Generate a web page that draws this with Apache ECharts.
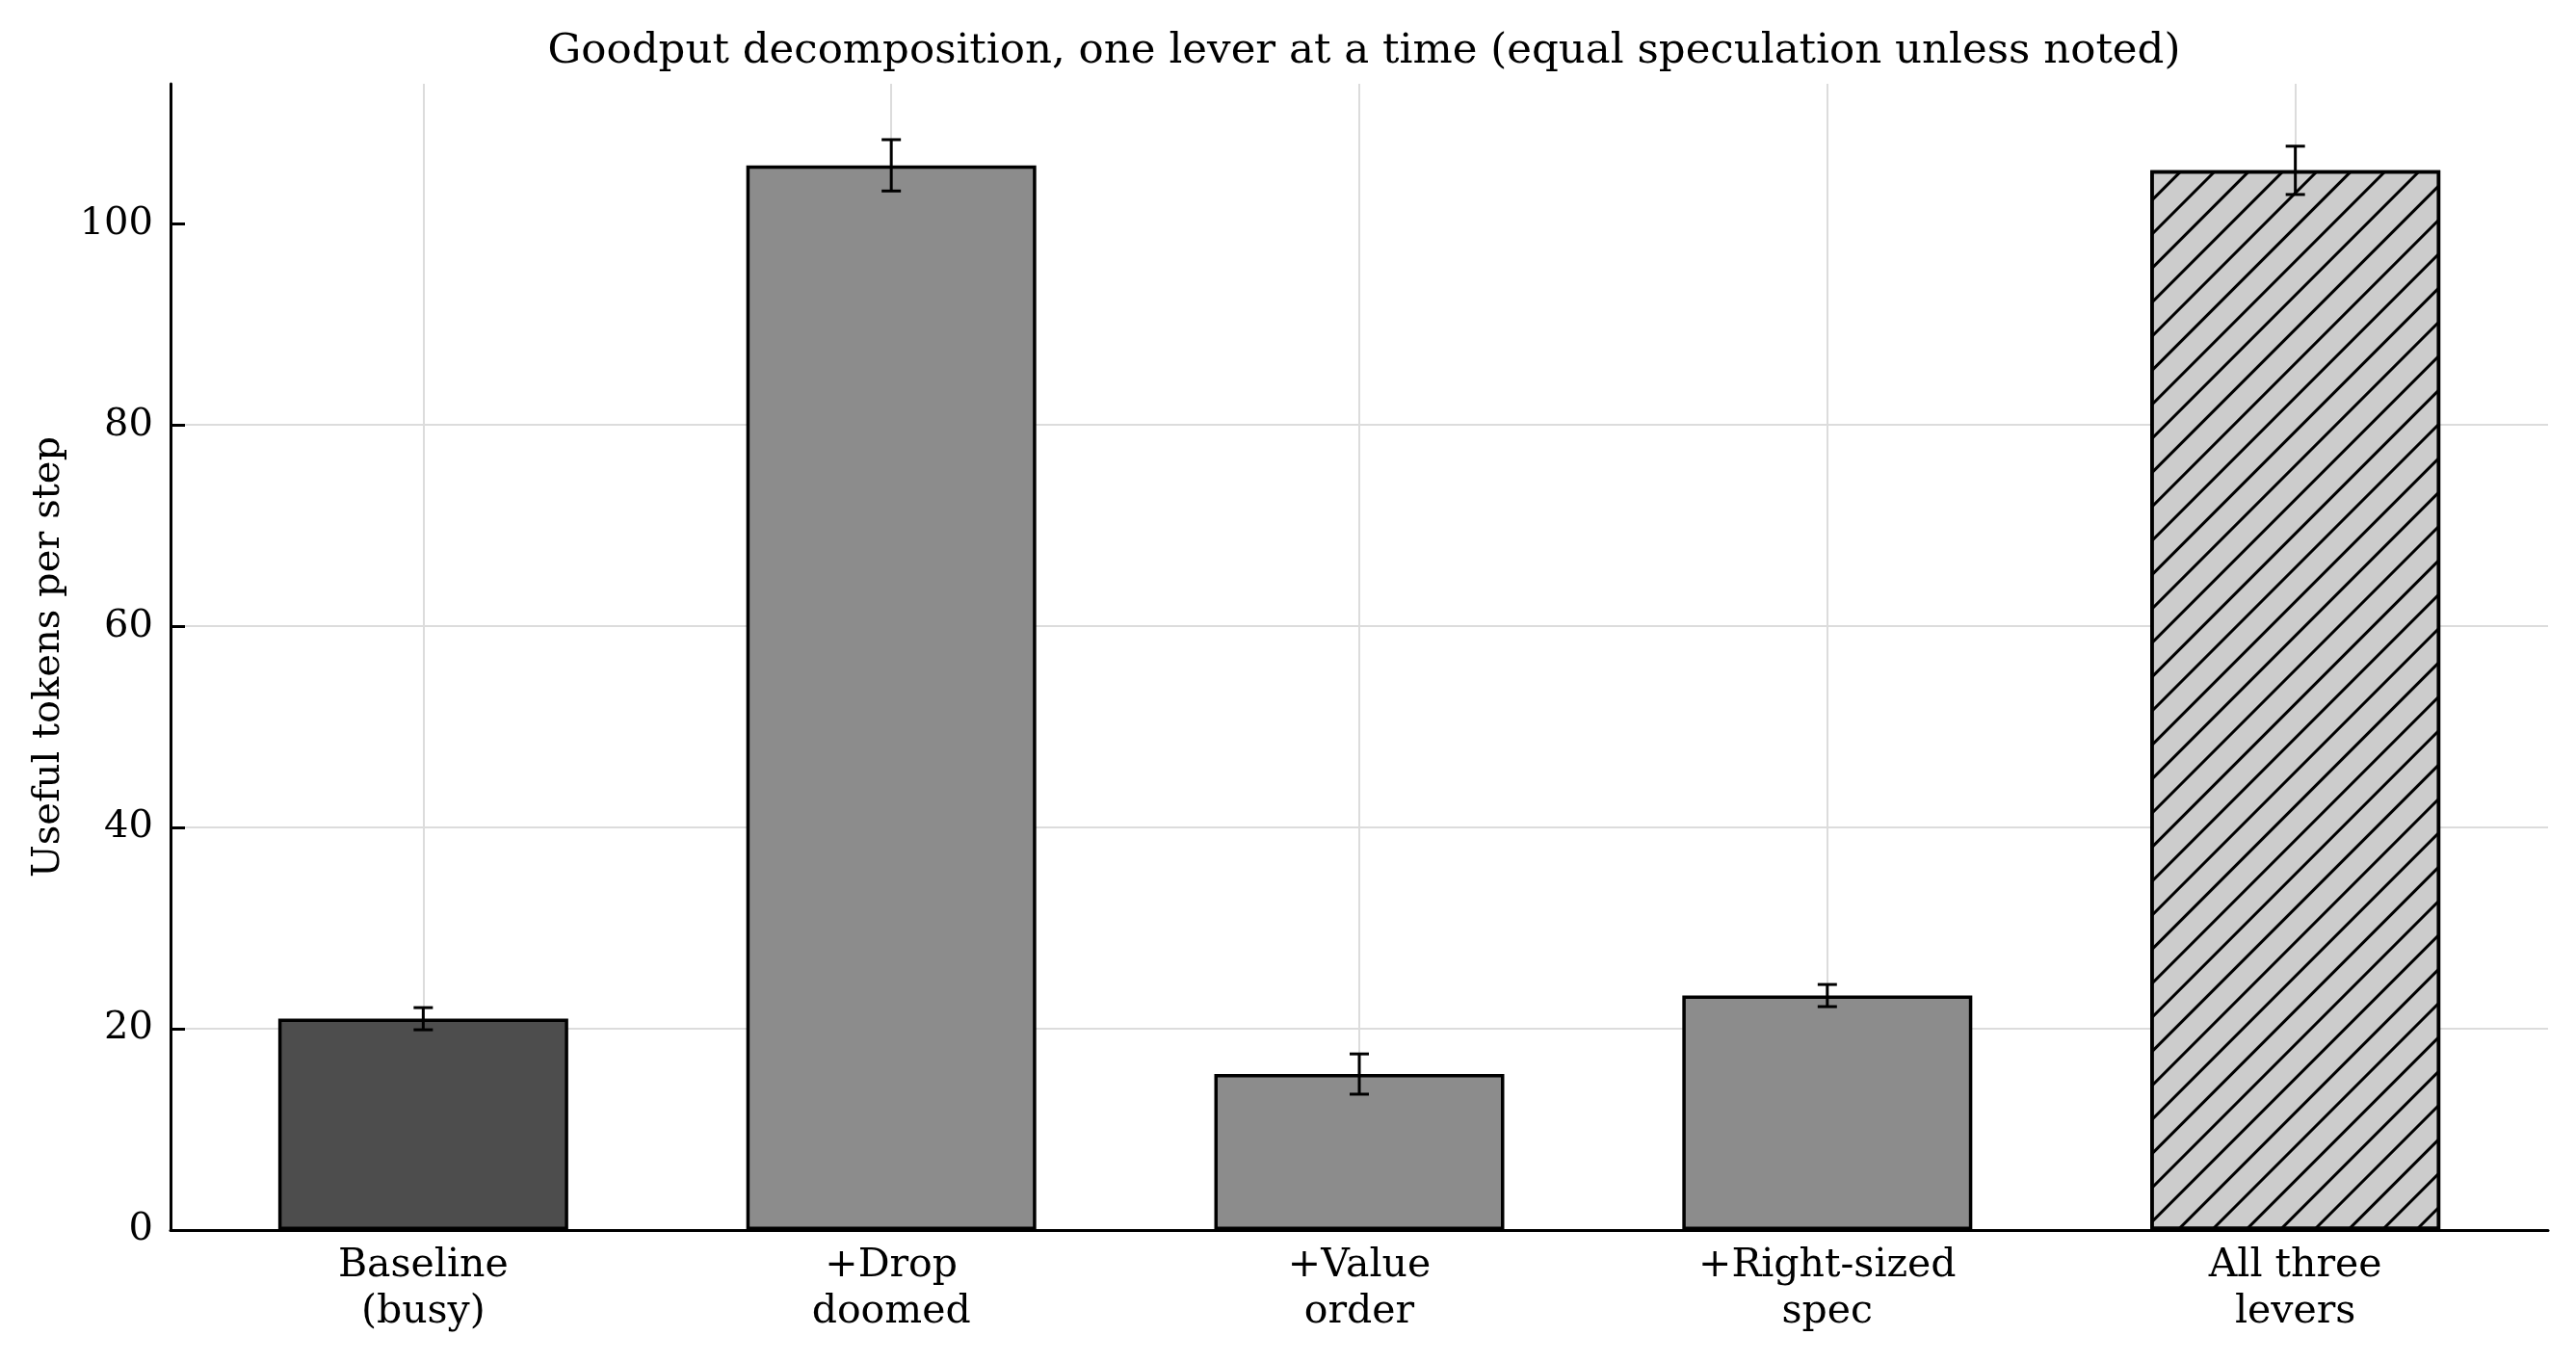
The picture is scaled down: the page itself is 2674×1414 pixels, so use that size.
<!DOCTYPE html>
<html><head><meta charset="utf-8">
<script src="https://cdn.jsdelivr.net/npm/echarts@6/dist/echarts.min.js"></script>
<style>html,body{margin:0;padding:0;background:#fff}#c{width:2674px;height:1414px}</style>
</head><body><div id="c"></div>
<script>
const categories = ['Baseline\n(busy)', '+Drop\ndoomed', '+Value\norder', '+Right-sized\nspec', 'All three\nlevers'];
const values = [21.0, 105.8, 15.5, 23.3, 105.3];
const errors = [1.1, 2.55, 2.0, 1.1, 2.4];
const yTicks = [0, 20, 40, 60, 80, 100];
const barColors = ['#4d4d4d', '#8c8c8c', '#8c8c8c', '#8c8c8c', '#cccccc'];
const hatched = [false, false, false, false, true];

const FONT = '"DejaVu Serif", serif';
const xIdx = categories.map((_, i) => i);

const barData = values.map((v, i) => {
  const item = { value: [i, v], itemStyle: { color: barColors[i], borderColor: '#000', borderWidth: 3.5 } };
  if (hatched[i]) {
    item.itemStyle.decal = { symbol: 'rect', color: '#000', dashArrayX: [1, 0], dashArrayY: [2.2, 21.4], rotation: -Math.PI / 4, symbolSize: 1 };
  }
  return item;
});
const errData = values.map((v, i) => [i, v - errors[i], v + errors[i]]);

const chart = echarts.init(document.getElementById('c'), null, { renderer: 'canvas' });
chart.setOption({
  animation: false,
  backgroundColor: '#fff',
  title: {
    text: 'Goodput decomposition, one lever at a time (equal speculation unless noted)',
    left: 1411, top: 27, textAlign: 'center',
    textStyle: { fontFamily: FONT, fontSize: 43.5, fontWeight: 'normal', color: '#000' }
  },
  grid: { left: 177, right: 29, top: 87, bottom: 137, containLabel: false },
  xAxis: {
    type: 'value', min: -0.54, max: 4.54,
    axisLine: { show: true, onZero: false, lineStyle: { color: '#000', width: 3 } },
    axisTick: { show: true, inside: true, length: 15, customValues: xIdx, lineStyle: { color: '#000', width: 3 } },
    axisLabel: { customValues: xIdx, formatter: v => categories[Math.round(v)] || '', fontFamily: FONT, fontSize: 41, color: '#000', lineHeight: 48, margin: 13 },
    splitLine: { show: true, lineStyle: { color: '#dcdcdc', width: 2 } }
  },
  yAxis: {
    type: 'value', min: 0, max: 113.9, interval: 20,
    name: 'Useful tokens per step', nameLocation: 'middle', nameGap: 106, nameRotate: 90,
    nameTextStyle: { fontFamily: FONT, fontSize: 40, color: '#000' },
    axisLine: { show: true, onZero: false, lineStyle: { color: '#000', width: 3 } },
    axisTick: { show: true, inside: true, length: 15, customValues: yTicks, lineStyle: { color: '#000', width: 3 } },
    axisLabel: { customValues: yTicks, fontFamily: FONT, fontSize: 40, color: '#000', margin: 18 },
    splitLine: { show: true, showMaxLine: false, lineStyle: { color: '#dcdcdc', width: 2 } }
  },
  series: [
    { type: 'bar', data: barData, barWidth: 301, z: 2 },
    {
      type: 'custom', z: 3, data: errData,
      renderItem: (params, api) => {
        const x = api.value(0);
        const lo = api.coord([x, api.value(1)]);
        const hi = api.coord([x, api.value(2)]);
        const cw = 10;
        const st = { stroke: '#000', lineWidth: 3 };
        return { type: 'group', children: [
          { type: 'line', shape: { x1: lo[0], y1: lo[1], x2: hi[0], y2: hi[1] }, style: st },
          { type: 'line', shape: { x1: lo[0] - cw, y1: lo[1], x2: lo[0] + cw, y2: lo[1] }, style: st },
          { type: 'line', shape: { x1: hi[0] - cw, y1: hi[1], x2: hi[0] + cw, y2: hi[1] }, style: st }
        ] };
      }
    }
  ]
});
</script></body></html>
